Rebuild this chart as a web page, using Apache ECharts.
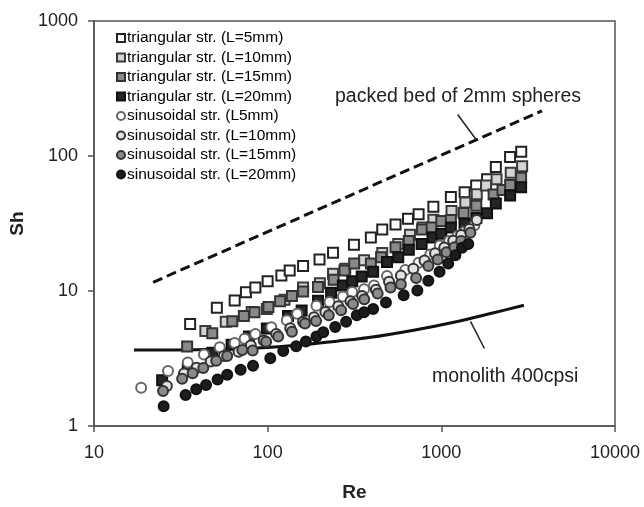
<!DOCTYPE html>
<html><head><meta charset="utf-8">
<script src="https://cdn.jsdelivr.net/npm/echarts@6/dist/echarts.min.js"></script>
<style>html,body{margin:0;padding:0;background:#fff}#c{width:644px;height:507px}</style>
</head><body><div id="c"></div><script>
// ---- data (Re, Sh) ----
const triL5  = [[35.8,5.7],[51,7.5],[64.6,8.5],[75,9.8],[85,10.6],[100,11.8],[120,13.0],[134,14.2],[160,15.3],[199,17.1],[238,19.2],[314,22.0],[393,24.9],[457,28.5],[545,31.1],[643,34.3],[740,37.1],[900,42.1],[1135,49.7],[1362,54.0],[1587,60.4],[1834,67.4],[2060,82.8],[2488,98.2],[2885,107.5]];
const triL10 = [[43.8,5.06],[57.4,5.91],[81,7.0],[99,7.37],[125,8.6],[160,10.6],[200,11.4],[238,13.4],[280,14.6],[359,16.9],[457,19.1],[565,22.3],[660,26.1],[780,29.5],[900,33.7],[1145,39.2],[1375,45.3],[1600,52],[1810,60.4],[2080,67.4],[2510,75],[2920,84]];
const triL15 = [[34.4,3.88],[48,4.86],[62.6,5.98],[73,6.52],[84,6.97],[101,7.6],[118,8.4],[138,9.2],[160,9.9],[195,10.7],[240,12.1],[277,14.2],[315,15.96],[393,16.0],[450,17.8],[545,21.1],[650,23.5],[775,28.6],[880,29.5],[1000,33],[1135,33.5],[1345,37.8],[1590,42.8],[2000,51.9],[2250,56],[2490,61],[2880,69]];
const triL20 = [[24.7,2.18],[34.7,2.65],[48,3.49],[62,4.0],[78,4.6],[99,5.28],[131,6.52],[157,7.18],[195,8.45],[232,9.7],[271,11.0],[307,11.8],[348,12.8],[405,13.9],[487,16.4],[565,17.8],[650,20.2],[770,22.3],[890,24.9],[1000,26.5],[1135,29.5],[1360,31.5],[1590,34.7],[1834,37.7],[2060,44.4],[2490,51],[2880,58.6]];
const sinL5  = [[18.7,1.92],[26.7,2.55],[34.7,2.96],[43,3.39],[53,3.83],[64.6,4.12],[73.7,4.43],[85,4.81],[105,5.4],[129,6.07],[148,6.78],[191,7.79],[227,8.3],[271,9.1],[307,9.83],[359,10.3],[410,11.0],[487,12.9],[620,14.3],[740,16.2],[864,18.6],[980,21.7],[1110,23.5],[1240,25.6],[1360,27.5],[1550,30.7]];
const sinL10 = [[26.3,1.98],[33,2.45],[39,2.7],[47,3.0],[56,3.3],[68,3.55],[80,3.95],[95,4.3],[112,4.8],[135,5.3],[160,5.9],[185,6.4],[215,7.0],[255,7.7],[300,8.4],[350,9.2],[420,10.2],[500,11.7],[585,13.0],[690,14.6],[800,16.8],[920,19.0],[1040,21.0],[1170,23.6],[1300,26.0],[1450,28.8],[1600,33.5]];
const sinL15 = [[25,1.82],[32.2,2.24],[37,2.46],[42.6,2.69],[50.6,3.04],[58.5,3.30],[71.5,3.65],[82,3.63],[98,4.2],[115,4.6],[138,5.0],[164,5.74],[190,6.0],[225,6.6],[265,7.2],[310,8.0],[360,8.7],[430,9.6],[510,10.6],[585,11.2],[716,12.5],[842,15.3],[953,17.1],[1070,19.4],[1190,21.1],[1300,23.5],[1470,27.0]];
const sinL20 = [[25.2,1.40],[33.7,1.70],[38.8,1.87],[44.2,2.01],[51.5,2.21],[58.5,2.40],[69.9,2.61],[82.4,2.80],[103.6,3.18],[123,3.59],[146,3.90],[166,4.23],[191,4.61],[209,4.95],[245,5.42],[283,5.91],[326,6.61],[359,6.97],[405,7.37],[480,8.22],[607,9.29],[728,10.1],[842,11.9],[977,13.9],[1096,16.0],[1205,18.4],[1316,20.9],[1430,22.3]];
const packedBed = [[21.9,11.6],[3800,216]];
const monolith  = [[17,3.65],[30,3.66],[50,3.7],[87,3.78],[160,4.0],[250,4.25],[382,4.52],[705,5.15],[1200,5.9],[2000,6.9],[2990,7.84]];
const packedLeader   = [[1242,203],[1589,132]];
const monolithLeader = [[1472,5.95],[1770,3.75]];
const seriesNames = ['triangular str. (L=5mm)','triangular str. (L=10mm)','triangular str. (L=15mm)','triangular str. (L=20mm)','sinusoidal str. (L5mm)','sinusoidal str. (L=10mm)','sinusoidal str. (L=15mm)','sinusoidal str. (L=20mm)'];
const seriesData = [triL5, triL10, triL15, triL20, sinL5, sinL10, sinL15, sinL20];
const xTicks = [10, 100, 1000, 10000];
const yTicks = [1, 10, 100, 1000];
const packedLabel = 'packed bed of 2mm spheres';
const monolithLabel = 'monolith 400cpsi';

// ---- styles ----
const styles = [
  {symbol:'rect',   fill:'#ffffff', border:'#222'},
  {symbol:'rect',   fill:'#d4d4d4', border:'#3a3a3a'},
  {symbol:'rect',   fill:'#8a8a8a', border:'#333'},
  {symbol:'rect',   fill:'#252525', border:'#111'},
  {symbol:'circle', fill:'#ffffff', border:'#666'},
  {symbol:'circle', fill:'#e2e2e2', border:'#333'},
  {symbol:'circle', fill:'#8a8a8a', border:'#333'},
  {symbol:'circle', fill:'#1c1c1c', border:'#111'}
];
const FONT = '"Liberation Sans", Arial, sans-serif';
const chart = echarts.init(document.getElementById('c'));
const series = seriesData.map((d,i)=>({
  name: seriesNames[i], type:'scatter', data:d,
  symbol: styles[i].symbol, symbolSize: 10,
  itemStyle:{color:styles[i].fill, borderColor:styles[i].border, borderWidth:2, opacity:1},
  z: 3 + i
}));
series.push({name:'packed', type:'line', data:packedBed, symbol:'none', silent:true,
  lineStyle:{color:'#111', width:3, type:[10,5]}, z:2});
series.push({name:'monolith', type:'line', data:monolith, symbol:'none', smooth:0.4, silent:true,
  lineStyle:{color:'#111', width:3}, z:2});
series.push({name:'pl', type:'line', data:packedLeader, symbol:'none', silent:true,
  lineStyle:{color:'#222', width:1.5}, z:2});
series.push({name:'ml', type:'line', data:monolithLeader, symbol:'none', silent:true,
  lineStyle:{color:'#222', width:1.5}, z:2});

const axisLabelStyle = {color:'#222', fontSize:18, fontFamily:FONT, formatter:(v)=>String(v)};
chart.setOption({
  animation:false,
  backgroundColor:'#fff',
  grid:{left:85, right:29, top:21, bottom:70, show:true, borderColor:'#555', borderWidth:1.5, backgroundColor:'transparent'},
  legend:{
    data: seriesNames, orient:'vertical', left:111, top:25,
    itemWidth:8, itemHeight:8, itemGap:3.5,
    textStyle:{fontSize:15.5, color:'#000', fontFamily:FONT, padding:[0,0,0,-3]}
  },
  xAxis:{type:'log', logBase:10, min:xTicks[0], max:xTicks[xTicks.length-1],
    name:'Re', nameLocation:'middle', nameGap:57,
    nameTextStyle:{fontSize:19, fontWeight:'bold', color:'#222', fontFamily:FONT},
    axisLine:{show:true, lineStyle:{color:'#555', width:1.5}},
    axisTick:{show:true, length:6, lineStyle:{color:'#555', width:1.5}},
    axisLabel:{...axisLabelStyle, margin:18},
    splitLine:{show:false}, minorTick:{show:false}},
  yAxis:{type:'log', logBase:10, min:yTicks[0], max:yTicks[yTicks.length-1],
    name:'Sh', nameLocation:'middle', nameGap:51, nameRotate:90,
    nameTextStyle:{fontSize:19, fontWeight:'bold', color:'#222', fontFamily:FONT},
    axisLine:{show:true, lineStyle:{color:'#555', width:1.5}},
    axisTick:{show:true, length:6, lineStyle:{color:'#555', width:1.5}},
    axisLabel:{...axisLabelStyle, margin:16},
    splitLine:{show:false}, minorTick:{show:false}},
  series: series,
  graphic:[
    {type:'text', left:335, top:87, style:{text:packedLabel, fontSize:19.5, fill:'#222', fontFamily:FONT}},
    {type:'text', left:432, top:367, style:{text:monolithLabel, fontSize:19.5, fill:'#222', fontFamily:FONT}}
  ]
});
</script></body></html>
